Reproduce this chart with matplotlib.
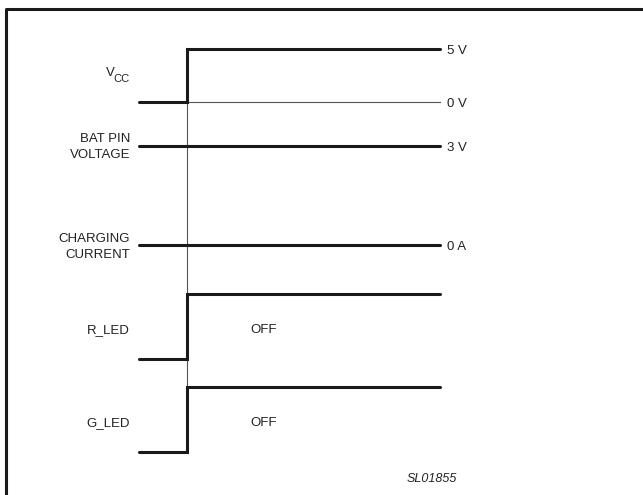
import matplotlib.pyplot as plt

plt.rcParams['font.family'] = ['Liberation Sans', 'DejaVu Sans']

# timing: signal starts at t=0, switches at t=1, ends at t_end
t_start = 0.0
t_step = 1.0
t_end = 6.27

# signal names (left) and levels (right)
names = ['', 'BAT PIN\nVOLTAGE', 'CHARGING\nCURRENT', 'R_LED', 'G_LED']
right_labels = ['5 V', '3 V', '0 A', '', '']
# level before the step / after the step, in diagram row units (pixel rows)
low_y = [102, 146, 245, 359, 452]
high_y = [49, 146, 245, 294, 387]
name_y = [75, 147, 247, 330, 423]
state_text = ['', '', '', 'OFF', 'OFF']

fig = plt.figure(figsize=(6.43, 4.95), dpi=100)
ax = fig.add_axes([0, 0, 1, 1])
px = 48.0  # pixels per time unit
ax.set_xlim(-139 / px, (643 - 139) / px)
ax.set_ylim(495, 0)
ax.axis('off')

# frame (right and bottom edges are cut off)
ax.plot([-133 / px, -133 / px, 700 / px], [600, 9, 9], color='#1a1a1a', lw=2.2, solid_capstyle='butt')

# thin marker line at the step
ax.plot([t_step, t_step], [high_y[0], high_y[4]], color='#555555', lw=0.8)
# thin 0 V reference
ax.plot([t_step, t_end], [low_y[0], low_y[0]], color='#555555', lw=0.8)

for i in range(len(names)):
    xs = [t_start, t_step, t_step, t_end]
    ys = [low_y[i], low_y[i], high_y[i], high_y[i]]
    ax.plot(xs, ys, color='#1a1a1a', lw=2.2, solid_capstyle='round', solid_joinstyle='miter')
    if names[i]:
        ax.text(-9 / px, name_y[i], names[i], ha='right', va='center', fontsize=9.5,
                color='#222222', linespacing=1.45)
    if right_labels[i]:
        ax.text(t_end + 7 / px, high_y[i] + 2, right_labels[i], ha='left', va='center',
                fontsize=9.5, color='#222222')
    if state_text[i]:
        ax.text(t_step + 63 / px, name_y[i], state_text[i], ha='left', va='center',
                fontsize=9.5, color='#222222')

# V_CC label with a large subscript
ax.text(-24 / px, 73, 'V', ha='right', va='center', fontsize=9.5, color='#222222')
ax.text(-9 / px, 79, 'CC', ha='right', va='center', fontsize=8, color='#222222')

ax.text(t_end + 7 / px, low_y[0] + 2, '0 V', ha='left', va='center', fontsize=9.5, color='#222222')
ax.text(t_end + 17 / px, 479, 'SL01855', ha='right', va='center', fontsize=9,
        style='italic', color='#222222')

fig.savefig('out.png', dpi=100)
